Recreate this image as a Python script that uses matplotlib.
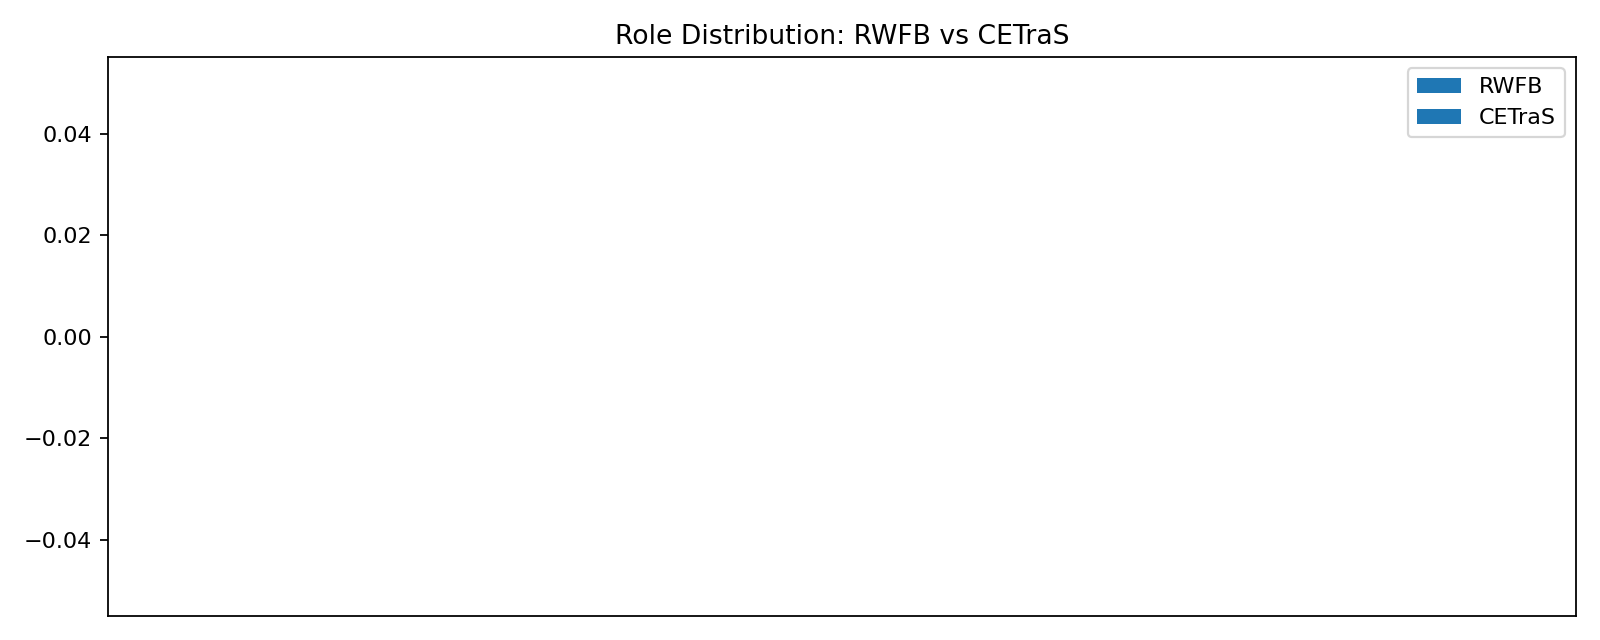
import matplotlib
matplotlib.use('Agg')
import matplotlib.pyplot as plt
import numpy as np

# role counts per method (the source data had no roles to show)
roles = []
rwfb_counts = []
cetras_counts = []

x = np.arange(len(roles))
width = 0.35

fig, ax = plt.subplots(figsize=(10, 4), dpi=160)
ax.bar(x - width / 2, rwfb_counts, width, label='RWFB')
ax.bar(x + width / 2, cetras_counts, width, label='CETraS')
ax.set_xticks(x)
ax.set_xticklabels(roles, rotation=45, ha='right')
ax.set_title('Role Distribution: RWFB vs CETraS')
ax.legend()

plt.tight_layout()
plt.savefig('out.png', dpi=160)
plt.close(fig)
